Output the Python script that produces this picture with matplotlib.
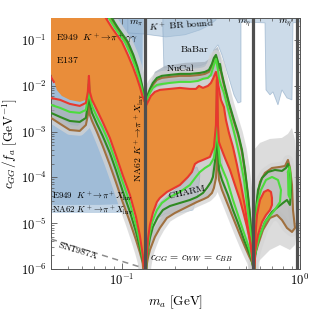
import numpy as np
import matplotlib
matplotlib.use("Agg")
import matplotlib.pyplot as plt
from matplotlib import ticker

plt.rcParams["mathtext.fontset"] = "cm"
plt.rcParams["font.family"] = "DejaVu Serif"

# ---- data: m_a [GeV], c_GG/f_a [GeV^-1] ----
m_pi, m_eta, m_etap = 0.135, 0.548, 0.958
c_top = 0.4      # above the frame
c_floor = 4e-7   # contours dip below the frame at the meson masses

# below m_pi, lower edges of the contours (common mass grid)
m_low_L = [0.040, 0.045, 0.051, 0.058, 0.0628, 0.0644, 0.0653, 0.0661, 0.068, 0.0724,
           0.078, 0.0856, 0.0925, 0.101, 0.111, 0.120, 0.126, 0.131, 0.1345]
red_low_L = [5.41e-3, 4.90e-3, 4.01e-3, 3.62e-3, 4.21e-3, 7.32e-3, 1.64e-2, 7.32e-3, 4.90e-3, 2.96e-3,
             1.62e-3, 7.25e-4, 3.08e-4, 1.13e-4, 4.13e-5, 1.37e-5, 5.52e-6, 2.02e-6, 3e-7]
lgr_low_L = [3.81e-3, 3.28e-3, 2.68e-3, 2.55e-3, 2.96e-3, 5.41e-3, 1.34e-2, 5.41e-3, 3.62e-3, 2.08e-3,
             1.20e-3, 5.10e-4, 2.17e-4, 7.94e-5, 2.76e-5, 9.14e-6, 3.89e-6, 1.74e-6, 3e-7]
dgr_low_L = [2.55e-3, 2.08e-3, 1.70e-3, 1.62e-3, 1.98e-3, 4.01e-3, 1.09e-2, 4.01e-3, 2.55e-3, 1.47e-3,
             8.02e-4, 3.41e-4, 1.45e-4, 5.05e-5, 1.76e-5, 6.43e-6, 3.02e-6, 1.50e-6, 3e-7]
brn_low_L = [1.98e-3, 1.47e-3, 1.08e-3, 1.03e-3, 1.39e-3, 2.30e-3, 3.81e-3, 2.30e-3, 1.70e-3, 9.80e-4,
             4.85e-4, 1.87e-4, 7.94e-5, 2.90e-5, 1.06e-5, 4.30e-6, 2.35e-6, 1.35e-6, 3e-7]

# below m_pi, upper (falling) edges
c_up_L = [0.352, 0.183, 0.0904, 0.047, 0.0257, 0.0148, 0.00942, 0.00598, 0.00466]
red_up_L_m = [0.0792, 0.0879, 0.100, 0.108, 0.1153, 0.1215, 0.1262, 0.1304, 0.1338]
lgr_up_L_m = [0.0824, 0.0913, 0.1039, 0.1123, 0.1191, 0.1246, 0.1287, 0.1315, 0.1341]
dgr_up_L_m = [0.0856, 0.0950, 0.1080, 0.1160, 0.1222, 0.1270, 0.1304, 0.1329, 0.1345]
brn_up_L_m = [0.0845, 0.0937, 0.1065, 0.1150, 0.1212, 0.1262, 0.1298, 0.1325, 0.1345]

# left edge of the orange area near the frame
orange_edge_m = [0.0661, 0.0653, 0.0644, 0.0628, 0.0581, 0.0510, 0.0460, 0.0431, 0.0415, 0.0399, 0.039]
orange_edge_c = [8.10e-3, 0.0181, 8.10e-3, 4.90e-3, 4.43e-3, 4.90e-3, 5.98e-3, 8.10e-3, 0.0134, 0.0181, 0.0181]

# m_pi .. m_eta, upper edges
dgr_up_R_m = [0.1355, 0.1382, 0.1437, 0.1493, 0.1573, 0.1677, 0.1861, 0.2117, 0.2410, 0.2743, 0.2926,
              0.3082, 0.3204, 0.3287, 0.3374, 0.3462, 0.3507, 0.3553, 0.3600, 0.3741, 0.3993, 0.4259,
              0.4486, 0.4725, 0.4913, 0.5107, 0.5237, 0.5376, 0.5466, 0.5487]
dgr_up_R_c = [4.01e-3, 5.69e-3, 8.51e-3, 0.0115, 0.0148, 0.0164, 0.0172, 0.0181, 0.0181, 0.0190, 0.0200,
              0.0221, 0.0299, 0.0404, 0.0470, 0.0331, 0.0245, 0.0299, 0.0221, 0.0115, 4.21e-3, 1.79e-3,
              9.32e-4, 3.97e-4, 1.45e-4, 4.13e-5, 1.51e-5, 4.30e-6, 1.42e-6, c_floor]
brn_up_R_m = dgr_up_R_m
brn_up_R_c = [3.81e-3, 5.15e-3, 7.69e-3, 0.0104, 0.0134, 0.0148, 0.0156, 0.0164, 0.0164, 0.0172, 0.0181,
              0.0200, 0.0271, 0.0366, 0.0425, 0.0299, 0.0221, 0.0271, 0.0200, 0.0104, 3.81e-3, 1.62e-3,
              8.43e-4, 3.59e-4, 1.31e-4, 3.73e-5, 1.37e-5, 3.89e-6, 1.35e-6, c_floor]
lgr_up_R_m = [0.1355, 0.1382, 0.1437, 0.1493, 0.1573, 0.1677, 0.1861, 0.2117, 0.2410, 0.2673, 0.2852,
              0.3042, 0.3162, 0.3287, 0.3374, 0.3462, 0.3507, 0.3600, 0.3741, 0.3993, 0.4204, 0.4371,
              0.4604, 0.4849, 0.5041, 0.5237, 0.5376, 0.5473, 0.5487]
lgr_up_R_c = [3.62e-3, 4.90e-3, 6.97e-3, 8.95e-3, 0.0104, 0.0109, 0.0115, 0.0121, 0.0121, 0.0127, 0.0141,
              0.0148, 0.0172, 0.0285, 0.0385, 0.0221, 0.0148, 0.0104, 6.97e-3, 2.55e-3, 1.20e-3, 6.56e-4,
              2.65e-4, 8.78e-5, 2.50e-5, 7.86e-6, 2.87e-6, 1.22e-6, c_floor]
red_up_R_m = [0.1355, 0.1400, 0.1455, 0.1532, 0.1634, 0.1861, 0.2117, 0.2410, 0.2604, 0.2708, 0.2852,
              0.3042, 0.3162, 0.3245, 0.3374, 0.3462, 0.3600, 0.3741, 0.3840, 0.3993, 0.4204, 0.4428,
              0.4664, 0.4913, 0.5107, 0.5307, 0.5466, 0.5487]
red_up_R_c = [3.44e-3, 4.43e-3, 5.98e-3, 7.32e-3, 8.10e-3, 8.51e-3, 8.95e-3, 8.51e-3, 8.51e-3, 9.90e-3, 8.95e-3,
              9.90e-3, 0.0115, 0.0141, 0.0200, 0.0115, 4.90e-3, 3.44e-3, 1.79e-3, 9.32e-4, 4.61e-4, 1.87e-4,
              6.83e-5, 2.26e-5, 7.86e-6, 2.87e-6, 1.22e-6, c_floor]

# m_pi .. m_eta, lower edges
red_low_R_m = [0.1355, 0.1373, 0.1400, 0.1437, 0.1493, 0.1573, 0.1634, 0.1790, 0.2117, 0.2348, 0.2473,
               0.2571, 0.2673, 0.2852, 0.3122, 0.3287, 0.3374, 0.3409, 0.3440, 0.3462, 0.3507, 0.3553,
               0.3790, 0.4045, 0.4314, 0.4604, 0.4849, 0.5041, 0.5237, 0.5376, 0.5466, 0.5487]
red_low_R_c = [c_floor, 1.42e-6, 4.30e-6, 9.14e-6, 1.67e-5, 2.90e-5, 3.55e-5, 4.80e-5, 6.83e-5, 1.02e-4, 1.31e-4,
               1.96e-4, 2.17e-4, 2.40e-4, 2.79e-4, 4.61e-4, 1.39e-3, 0.0134, 0.0134, 1.39e-3, 5.93e-4, 5.10e-4,
               2.65e-4, 1.45e-4, 6.83e-5, 3.21e-5, 1.51e-5, 8.26e-6, 4.30e-6, 2.24e-6, 1.16e-6, c_floor]
lgr_low_R_m = [0.1355, 0.1373, 0.1400, 0.1437, 0.1493, 0.1573, 0.1677, 0.1861, 0.2117, 0.2410, 0.2604,
               0.2743, 0.2926, 0.3122, 0.3287, 0.3374, 0.3418, 0.3462, 0.3553, 0.3890, 0.4204, 0.4545,
               0.4913, 0.5174, 0.5376, 0.5473, 0.5487]
lgr_low_R_c = [c_floor, 1.22e-6, 3.34e-6, 6.43e-6, 1.17e-5, 1.94e-5, 2.76e-5, 3.73e-5, 4.80e-5, 6.83e-5, 1.02e-4,
               1.31e-4, 1.60e-4, 1.87e-4, 2.65e-4, 6.56e-4, 8.10e-3, 6.56e-4, 2.06e-4, 8.78e-5, 3.21e-5, 1.30e-5,
               5.26e-6, 2.87e-6, 1.65e-6, 1.11e-6, c_floor]
dgr_low_R_m = [0.1355, 0.1373, 0.1400, 0.1437, 0.1493, 0.1593, 0.1699, 0.1861, 0.2117, 0.2410, 0.2638,
               0.2852, 0.3003, 0.3162, 0.3245, 0.3330, 0.3374, 0.3418, 0.3462, 0.3507, 0.3646, 0.3941,
               0.4204, 0.4486, 0.4849, 0.5107, 0.5307, 0.5466, 0.5487]
dgr_low_R_c = [c_floor, 1.16e-6, 2.60e-6, 4.75e-6, 8.26e-6, 1.37e-5, 1.94e-5, 2.37e-5, 2.76e-5, 3.21e-5, 3.73e-5,
               4.56e-5, 5.87e-5, 7.94e-5, 1.02e-4, 2.17e-4, 3.97e-4, 2.96e-3, 3.97e-4, 1.45e-4, 8.78e-5, 4.13e-5,
               1.94e-5, 1.01e-5, 4.30e-6, 2.60e-6, 1.74e-6, 1.11e-6, c_floor]
brn_low_R_m = [0.1355, 0.1373, 0.1400, 0.1437, 0.1532, 0.1634, 0.1790, 0.1985, 0.2259, 0.2638, 0.2889,
               0.3042, 0.3204, 0.3287, 0.3374, 0.3418, 0.3440, 0.3462, 0.3507, 0.3646, 0.3941, 0.4259,
               0.4604, 0.4913, 0.5174, 0.5376, 0.5466, 0.5487]
brn_low_R_c = [c_floor, 1.11e-6, 1.74e-6, 2.60e-6, 5.00e-6, 7.86e-6, 1.30e-5, 1.67e-5, 2.15e-5, 2.90e-5, 3.38e-5,
               3.73e-5, 4.56e-5, 5.87e-5, 9.70e-5, 2.40e-4, 6.56e-4, 2.40e-4, 8.78e-5, 5.31e-5, 2.50e-5, 1.17e-5,
               5.52e-6, 3.02e-6, 1.92e-6, 1.42e-6, 1.05e-6, c_floor]

# m_eta .. m_eta' closed contours
brn_loop_m = [0.5487, 0.5588, 0.5735, 0.5962, 0.6360, 0.6962, 0.7720, 0.8235, 0.8560, 0.8785, 0.9017,
              0.9135, 0.9374, 0.9017, 0.8451, 0.7921, 0.7425, 0.6784, 0.6197, 0.5808, 0.5588, 0.5487]
brn_loop_c = [c_floor, 5.52e-6, 3.21e-5, 7.94e-5, 1.25e-4, 1.60e-4, 1.69e-4, 1.77e-4, 2.40e-4, 1.60e-4, 6.83e-5,
              1.94e-5, 7.86e-6, 6.43e-6, 7.86e-6, 1.17e-5, 1.51e-5, 1.30e-5, 7.11e-6, 3.34e-6, 2.02e-6, c_floor]
dgr_loop_m = [0.5487, 0.5588, 0.5661, 0.5808, 0.6118, 0.6610, 0.7237, 0.7921, 0.8342, 0.8560, 0.8785,
              0.8900, 0.8785, 0.8451, 0.8025, 0.7522, 0.6962, 0.6360, 0.5962, 0.5661, 0.5552, 0.5487]
dgr_loop_c = [c_floor, 4.30e-6, 1.94e-5, 5.31e-5, 9.70e-5, 1.31e-4, 1.45e-4, 1.38e-4, 1.60e-4, 1.96e-4, 1.31e-4,
              5.31e-5, 2.50e-5, 3.21e-5, 2.76e-5, 2.26e-5, 1.76e-5, 1.06e-5, 5.52e-6, 2.60e-6, 1.42e-6, c_floor]
lgr_loop_m = [0.5487, 0.5588, 0.5735, 0.6039, 0.6442, 0.6962, 0.7522, 0.7820, 0.7720, 0.7145, 0.6360,
              0.5885, 0.5588, 0.5487]
lgr_loop_c = [c_floor, 5.52e-6, 2.50e-5, 5.31e-5, 8.78e-5, 1.02e-4, 8.78e-5, 5.31e-5, 2.90e-5, 1.85e-5, 1.06e-5,
              4.75e-6, 2.03e-6, c_floor]
lgr_sliver_m = [0.856, 0.8728, 0.8842, 0.8785, 0.8616, 0.856]
lgr_sliver_c = [1.31e-4, 1.69e-4, 1.13e-4, 3.55e-5, 4.13e-5, 1.31e-4]
red_loop_m = [0.5487, 0.5588, 0.5735, 0.5962, 0.6279, 0.6610, 0.6872, 0.6962, 0.6962, 0.6784, 0.6442,
              0.6118, 0.5808, 0.5588, 0.5487]
red_loop_c = [c_floor, 4.30e-6, 1.51e-5, 3.21e-5, 4.80e-5, 5.31e-5, 4.80e-5, 3.55e-5, 2.50e-5, 1.94e-5, 1.51e-5,
              1.06e-5, 5.52e-6, 2.35e-6, c_floor]
red_blob_m = [0.040, 0.0415]
red_blob_c = [0.0156, 0.0121]

# grey uncertainty area between m_eta and m_eta'
halo_eta_m = [0.5516, 0.5962, 0.6784, 0.7921, 0.8560, 0.9017, 0.9374, 0.9619, 0.9619, 0.9374, 0.8785,
              0.7720, 0.6784, 0.5962, 0.5516]
halo_eta_c = [3.97e-4, 5.64e-4, 6.89e-4, 7.25e-4, 8.87e-4, 1.20e-3, 6.56e-4, 1.45e-4, 7.11e-6, 3.34e-6, 2.60e-6,
              3.34e-6, 2.60e-6, 1.57e-6, 1e-6]

# existing bounds
e949_m = [0.039, 0.0752, 0.1039, 0.1138, 0.1215, 0.1262, 0.1296, 0.1312, 0.039]
e949_c = [2.50e-5, 2.50e-5, 2.62e-5, 3.21e-5, 5.31e-5, 3.97e-4, 4.90e-3, c_top, c_top]
na62_m = [0.039, 0.0856, 0.1026, 0.1109, 0.1199, 0.1230, 0.1278, 0.1312, 0.1329, 0.039]
na62_c = [1.67e-5, 1.67e-5, 1.67e-5, 1.94e-5, 2.50e-5, 4.13e-5, 3.97e-4, 4.90e-3, c_top, c_top]
kbr_m = [0.1080, 0.1080, 0.1312, 0.1767, 0.2259, 0.2743, 0.3122, 0.3374, 0.3418]
kbr_c = [c_top, 0.142, 0.135, 0.116, 0.129, 0.165, 0.213, 0.273, c_top]
babar_m = [0.1699, 0.1699, 0.1722, 0.1985, 0.2743, 0.3122, 0.3287, 0.3462, 0.3646, 0.3941, 0.4259, 0.4486,
           0.4664, 0.4664, 0.6360, 0.6442, 0.6784, 0.7052, 0.7522, 0.7921, 0.8451, 0.9017, 0.9135, 1.0, 1.05]
babar_c = [c_top, 0.165, 0.0245, 0.0245, 0.0271, 0.0331, 0.0605, 0.0778, 0.0470, 0.0172, 6.30e-3, 4.21e-3,
           4.43e-3, 0.247, 0.235, 8.10e-3, 6.30e-3, 7.32e-3, 3.81e-3, 8.10e-3, 5.41e-3, 4.90e-3, 0.235, 0.247, c_top]
nucal_m = [0.1437, 0.1532, 0.1744, 0.2259, 0.2926, 0.3162, 0.3287, 0.3462, 0.3600, 0.3693, 0.3330, 0.2743,
           0.1985, 0.1532]
nucal_c = [0.0104, 0.0200, 0.0271, 0.0315, 0.0331, 0.0404, 0.0605, 0.0703, 0.0404, 0.0221, 0.0164, 0.0134,
           0.0121, 8.95e-3]
charm_m = [0.1437, 0.1532, 0.1699, 0.1985, 0.2318, 0.2473, 0.2638, 0.2743, 0.2673, 0.2505, 0.2117, 0.1744, 0.1532]
charm_c = [1.30e-5, 2.15e-5, 3.21e-5, 5.31e-5, 8.78e-5, 1.45e-4, 1.69e-4, 1.13e-4, 4.13e-5, 1.94e-5, 1.67e-5,
           1.59e-5, 1.17e-5]
sn_m = [0.04, 0.132]
sn_c = [4.5e-6, 1.05e-6]

# ---- colours ----
ORANGE = "#e98d3a"
BLUE = "#86aacd"
RED, LGREEN, DGREEN, BROWN = "#e8382e", "#4cdc3c", "#2f8a22", "#a0703f"
GREY = "#b0b0b0"

fig = plt.figure(figsize=(3.32, 3.12), dpi=100)
ax = fig.add_axes([0.1536, 0.1378, 0.7500, 0.8045])
ax.set_xscale("log")
ax.set_yscale("log")

# existing bounds
ax.fill(e949_m, e949_c, color=BLUE, alpha=0.55, lw=0, zorder=1)
ax.fill(na62_m, na62_c, color=BLUE, alpha=0.5, lw=0, zorder=1)
for m, c in [(kbr_m, kbr_c), (babar_m, babar_c), (charm_m, charm_c)]:
    ax.fill(m, c, facecolor="#a3bfd8", alpha=0.55, edgecolor="#7f9fbf", lw=0.6, zorder=1)
ax.fill(nucal_m, nucal_c, color="#a9b4bf", alpha=0.85, lw=0, zorder=1.2)
ax.fill(halo_eta_m, halo_eta_c, color="#dcdcdc", lw=0, zorder=1.3)

# grey halo round the outer contours
for m, c in [(m_low_L, brn_low_L), (dgr_up_L_m, c_up_L), (dgr_up_R_m, dgr_up_R_c),
             (brn_low_R_m, brn_low_R_c), (brn_loop_m, brn_loop_c)]:
    ax.plot(m, c, color="#d4d4d4", lw=7, alpha=0.75, solid_capstyle="round", zorder=1.8)

# grey band between inner and outer contours
ax.fill_between(m_low_L, brn_low_L, red_low_L, color=GREY, alpha=0.6, lw=0, zorder=2)
ax.fill(red_up_L_m + dgr_up_L_m[::-1], c_up_L + c_up_L[::-1], color=GREY, alpha=0.6, lw=0, zorder=2)
ax.fill(red_up_R_m + dgr_up_R_m[::-1], red_up_R_c + dgr_up_R_c[::-1], color=GREY, alpha=0.6, lw=0, zorder=2)
ax.fill(red_low_R_m + brn_low_R_m[::-1], red_low_R_c + brn_low_R_c[::-1], color=GREY, alpha=0.6, lw=0, zorder=2)
ax.fill(brn_loop_m, brn_loop_c, color=GREY, alpha=0.6, lw=0, zorder=2)

# orange region inside the red contour
orange_L_m = [0.039] + red_up_L_m + [m_pi] + m_low_L[8:18][::-1] + orange_edge_m
orange_L_c = [c_top] + c_up_L + [c_floor] + red_low_L[8:18][::-1] + orange_edge_c
ax.fill(orange_L_m, orange_L_c, color=ORANGE, lw=0, zorder=3)
ax.fill(red_up_R_m + red_low_R_m[::-1], red_up_R_c + red_low_R_c[::-1], color=ORANGE, lw=0, zorder=3)
ax.fill(red_loop_m, red_loop_c, color=ORANGE, lw=0, zorder=3)

# contours
lw = 1.5
for col, curves in [
    (BROWN, [(m_low_L, brn_low_L), (brn_up_L_m, c_up_L), (brn_up_R_m, brn_up_R_c),
             (brn_low_R_m, brn_low_R_c), (brn_loop_m, brn_loop_c)]),
    (DGREEN, [(m_low_L, dgr_low_L), (dgr_up_L_m, c_up_L), (dgr_up_R_m, dgr_up_R_c),
              (dgr_low_R_m, dgr_low_R_c), (dgr_loop_m, dgr_loop_c)]),
    (LGREEN, [(m_low_L, lgr_low_L), (lgr_up_L_m, c_up_L), (lgr_up_R_m, lgr_up_R_c),
              (lgr_low_R_m, lgr_low_R_c), (lgr_loop_m, lgr_loop_c), (lgr_sliver_m, lgr_sliver_c)]),
    (RED, [(m_low_L, red_low_L), (red_up_L_m, c_up_L), (red_up_R_m, red_up_R_c),
           (red_low_R_m, red_low_R_c), (red_loop_m, red_loop_c), (red_blob_m, red_blob_c)]),
]:
    for m, c in curves:
        ax.plot(m, c, color=col, lw=lw, zorder=4)

ax.plot(sn_m, sn_c, color="#8c8c8c", lw=1.1, dashes=(4, 3), zorder=4)

for m in [m_pi, m_eta, m_etap]:
    ax.axvline(m, color="#4f4f4f", lw=2.3, zorder=5)

# labels
fs = 7.0
kw = dict(fontsize=fs, zorder=6)
ax.text(0.1312, 0.225, r"$m_\pi$", ha="right", va="center", **kw)
ax.text(0.140, 0.215, r"$K^+\ \mathrm{BR\ bound}$", ha="left", va="center", rotation=4, **kw)
ax.text(0.531, 0.235, r"$m_\eta$", ha="right", va="center", **kw)
ax.text(0.925, 0.235, r"$m_{\eta'}$", ha="right", va="center", **kw)
ax.text(0.257, 0.0636, r"$\mathrm{BaBar}$", ha="center", va="center", **kw)
ax.text(0.2145, 0.0245, r"$\mathrm{NuCal}$", ha="center", va="center", **kw)
ax.text(0.0426, 0.1106, r"$\mathrm{E949}\ \ K^+\!\rightarrow\!\pi^+\gamma\gamma$", ha="left", va="center", **kw)
ax.text(0.0426, 0.0366, r"$\mathrm{E137}$", ha="left", va="center", **kw)
ax.text(0.0404, 3.9e-5, r"$\mathrm{E949}\ \ K^+\!\rightarrow\!\pi^+ X_{\rm inv}$", ha="left", va="center",
        fontsize=6.4, zorder=6)
ax.text(0.0404, 1.9e-5, r"$\mathrm{NA62}\ K^+\!\rightarrow\!\pi^+ X_{\rm inv}$", ha="left", va="center",
        fontsize=6.4, zorder=6)
ax.text(0.1254, 7.25e-4, r"$\mathrm{NA62}\ K^+\!\rightarrow\!\pi^+ X_{\rm inv}$", ha="center", va="center",
        rotation=90, **kw)
ax.text(0.2318, 4.80e-5, r"$\mathrm{CHARM}$", ha="center", va="center", rotation=13, **kw)
ax.text(0.0566, 2.60e-6, r"$\mathrm{SN1987A}$", ha="center", va="center", rotation=-17, **kw)
ax.text(0.1437, 1.65e-6, r"$c_{GG}\,=\,c_{WW}\,=\,c_{BB}$", ha="left", va="center", fontsize=7.5, zorder=6)

ax.set_xlim(0.04, 1.0)
ax.set_ylim(1e-6, 0.3)
fmt = ticker.FuncFormatter(lambda v, p: r"$10^{%d}$" % round(np.log10(v)))
ax.xaxis.set_major_formatter(fmt)
ax.yaxis.set_major_formatter(fmt)
ax.xaxis.set_minor_formatter(ticker.NullFormatter())
ax.yaxis.set_major_locator(ticker.LogLocator(base=10, numticks=12))
ax.yaxis.set_minor_locator(ticker.LogLocator(base=10, subs=np.arange(2, 10), numticks=12))
ax.tick_params(which="both", direction="in", top=True, right=True, labelsize=9, color="#555555")
ax.tick_params(which="major", length=4, width=0.6, pad=3)
ax.tick_params(which="minor", length=2, width=0.5)
for s in ax.spines.values():
    s.set_color("#555555")
    s.set_linewidth(0.7)
ax.set_xlabel(r"$m_a\ [\mathrm{GeV}]$", fontsize=9.5)
ax.set_ylabel(r"$c_{GG}/f_a\ [\mathrm{GeV}^{-1}]$", fontsize=9.5, labelpad=1)

fig.savefig("out.png", dpi=100)
